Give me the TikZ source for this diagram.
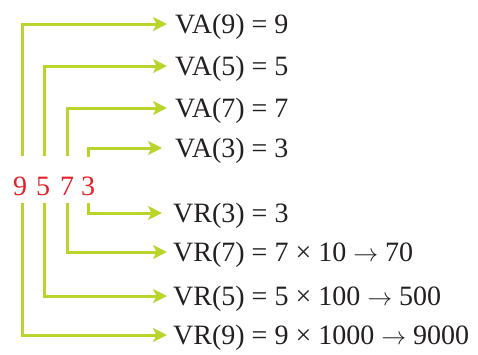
\documentclass[tikz,border=0pt]{standalone}
\usepackage{fontspec}
\setmainfont{Liberation Serif}
\usetikzlibrary{arrows.meta}
\definecolor{lime}{RGB}{187,212,44}
\definecolor{digitred}{RGB}{232,30,38}
\definecolor{ink}{RGB}{35,31,32}
\newcommand{\gives}{ $\rightarrow$ }
\begin{document}
\begin{tikzpicture}[x=1pt,y=-1pt,
  link/.style={draw=lime, line width=3pt,
    -{Stealth[length=14pt,width=14pt,inset=3.5pt]}},
  lbl/.style={anchor=west, inner sep=0pt, text height=18pt, text depth=0pt,
    font=\fontsize{28}{31}\selectfont, text=ink},
  dig/.style={inner sep=0pt, font=\fontsize{28}{31}\selectfont, text=digitred}]
\useasboundingbox (0,0) rectangle (478,354);

% the number, digit by digit
\node[dig] (d9) at (20,186) {9};
\node[dig] (d5) at (43,186) {5};
\node[dig] (d7) at (67,186) {7};
\node[dig] (d3) at (88,186) {3};

% absolute values
\node[lbl] (va9) at (175,24)  {VA(9) = 9};
\node[lbl] (va5) at (175,66)  {VA(5) = 5};
\node[lbl] (va7) at (175,108) {VA(7) = 7};
\node[lbl] (va3) at (175,148) {VA(3) = 3};

% relative values
\node[lbl] (vr3) at (173,213) {VR(3) = 3};
\node[lbl] (vr7) at (173,252) {VR(7) = 7 × 10\gives 70};
\node[lbl] (vr5) at (173,296) {VR(5) = 5 × 100\gives 500};
\node[lbl] (vr9) at (173,335) {VR(9) = 9 × 1000\gives 9000};

% line starts above and below the digits
\coordinate (u9) at (22,156);
\coordinate (u5) at (44,156);
\coordinate (u7) at (67,156);
\coordinate (u3) at (88,157);
\coordinate (l9) at (22,203);
\coordinate (l5) at (44,203);
\coordinate (l7) at (67,203);
\coordinate (l3) at (88,203);

\draw[link, shorten >=8pt]  (u9) |- (va9.west);
\draw[link, shorten >=8pt]  (u5) |- (va5.west);
\draw[link, shorten >=8pt]  (u7) |- (va7.west);
\draw[link, shorten >=13pt] (u3) |- (va3.west);

\draw[link, shorten >=11pt] (l3) |- (vr3.west);
\draw[link, shorten >=6pt]  (l7) |- (vr7.west);
\draw[link, shorten >=6pt]  (l5) |- (vr5.west);
\draw[link, shorten >=6pt]  (l9) |- (vr9.west);
\end{tikzpicture}
\end{document}
